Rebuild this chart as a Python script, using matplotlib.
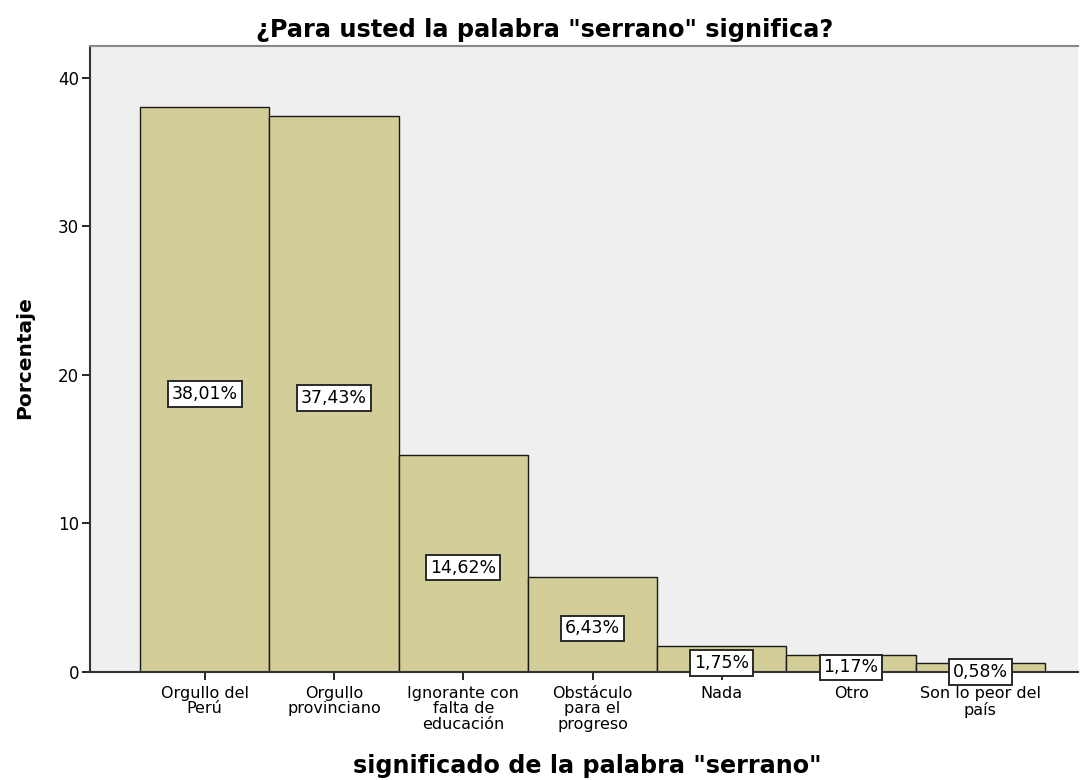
import matplotlib.pyplot as plt

plt.rcParams['font.family'] = ['DejaVu Sans']

categories = ["Orgullo del\nPerú", "Orgullo\nprovinciano", "Ignorante con\nfalta de\neducación",
              "Obstáculo\npara el\nprogreso", "Nada", "Otro", "Son lo peor del\npaís"]
percentages = [38.01, 37.43, 14.62, 6.43, 1.75, 1.17, 0.58]
value_labels = ["38,01%", "37,43%", "14,62%", "6,43%", "1,75%", "1,17%", "0,58%"]

fig = plt.figure(figsize=(10.81, 7.80), dpi=100)
ax = fig.add_axes([90 / 1081, 108 / 780, 988 / 1081, 626 / 780])
ax.set_facecolor('#EFEFEF')

x = list(range(len(categories)))
ax.bar(x, percentages, width=1.0, color='#D3CE97', edgecolor='#1a1a1a', linewidth=1.0)

# value boxes sit at half bar height
for xi, v, lab in zip(x, percentages, value_labels):
    ax.annotate(lab, (xi, v / 2), xytext=(0, -3), textcoords='offset points',
                ha='center', va='center', fontsize=12.5,
                bbox=dict(boxstyle='square,pad=0.22', facecolor='white',
                          edgecolor='#2a2a2a', linewidth=1.4))

ax.set_xlim(-0.887, 6.755)
ax.set_ylim(0, 42.15)
ax.set_yticks([0, 10, 20, 30, 40])
ax.set_xticks(x)
ax.set_xticklabels(categories, fontsize=11.5, linespacing=1.05)
ax.tick_params(axis='y', labelsize=12, length=6, width=1.2, direction='out', pad=2)
ax.tick_params(axis='x', length=6, width=1.2, direction='out', pad=4)

ax.spines['right'].set_visible(False)
ax.spines['top'].set_color('#888888')
ax.spines['top'].set_linewidth(1.5)
ax.spines['left'].set_color('#333333')
ax.spines['left'].set_linewidth(1.5)
ax.spines['bottom'].set_color('#333333')
ax.spines['bottom'].set_linewidth(1.5)

fig.text(545 / 1081, 1 - 30 / 780, '¿Para usted la palabra "serrano" significa?',
         ha='center', va='center', fontsize=17.3, fontweight='bold')
fig.text(587 / 1081, 1 - 766 / 780, 'significado de la palabra "serrano"',
         ha='center', va='center', fontsize=17.2, fontweight='bold')
fig.text(25 / 1081, 1 - 358 / 780, 'Porcentaje', rotation=90,
         ha='center', va='center', fontsize=14.5, fontweight='bold')

fig.savefig('out.png', dpi=100)
